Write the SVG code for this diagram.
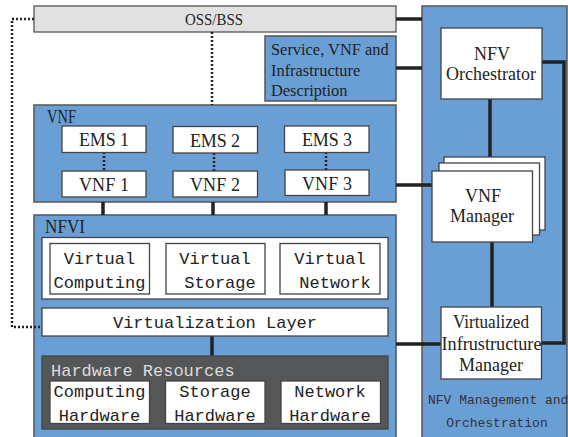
<svg xmlns="http://www.w3.org/2000/svg" width="568" height="437" viewBox="0 0 568 437">
  <style>
    .blue { fill: #6a9fd5; stroke: #555; stroke-width: 1.5; }
    .white { fill: #fff; stroke: #444; stroke-width: 1.3; }
    .grey { fill: #e1e1e2; stroke: #555; stroke-width: 1.3; }
    .dark { fill: #555658; stroke: #444; stroke-width: 1.3; }
    .serif { font-family: "Liberation Serif", "Times New Roman", serif; fill: #222; }
    .mono { font-family: "Liberation Mono", "DejaVu Sans Mono", monospace; fill: #222; font-size: 17px; }
    .mid { text-anchor: middle; }
    .link { stroke: #222; stroke-width: 3.5; fill: none; }
    .dots { stroke: #222; stroke-width: 2.5; stroke-dasharray: 2 2; fill: none; }
  </style>

  <!-- containers -->
  <g id="mano">
    <rect class="blue" x="422" y="6" width="145" height="440"/>
    <text class="mono" style="font-size:13px;fill:#333" x="428" y="404">NFV Management and</text>
    <text class="mono mid" style="font-size:13px;fill:#333" x="497" y="427">Orchestration</text>
  </g>

  <g id="oss-bss">
    <rect class="grey" x="34" y="6" width="362" height="26"/>
    <text class="serif mid" x="214" y="25" font-size="17" textLength="58" lengthAdjust="spacingAndGlyphs">OSS/BSS</text>
  </g>

  <g id="descriptor">
    <rect class="blue" x="265" y="36" width="131" height="65"/>
    <text class="serif" font-size="16.4" x="271" y="55">Service, VNF and</text>
    <text class="serif" font-size="16.4" x="271" y="76">Infrastructure</text>
    <text class="serif" font-size="16.4" x="271" y="96">Description</text>
  </g>

  <g id="vnf-layer">
    <rect class="blue" x="34" y="105" width="362" height="97"/>
    <text class="serif" x="47" y="123" font-size="18" textLength="29" lengthAdjust="spacingAndGlyphs">VNF</text>
  </g>

  <g id="nfvi">
    <rect class="blue" x="34" y="215" width="362" height="230"/>
    <text class="serif" x="45" y="233" font-size="18" textLength="40" lengthAdjust="spacingAndGlyphs">NFVI</text>
  </g>

  <!-- connectors -->
  <g id="connectors">
    <path class="dots" d="M34 19 H12 V327 H42"/>
    <path class="dots" d="M212 32 V105"/>
    <path class="dots" d="M104 152 V171"/>
    <path class="dots" d="M214 153 V171"/>
    <path class="dots" d="M326 152 V170"/>
    <path class="link" d="M396 19 H422"/>
    <path class="link" d="M396 68 H422"/>
    <path class="link" d="M396 185 H432"/>
    <path class="link" d="M396 344 H441"/>
    <path class="link" d="M103 202 V215"/>
    <path class="link" d="M213 202 V215"/>
    <path class="link" d="M326 202 V215"/>
    <path class="link" d="M212 336 V356"/>
    <path class="link" d="M490 99 V157"/>
    <path class="link" d="M492 242 V307"/>
    <path class="link" d="M541 62 H564 V343 H541"/>
  </g>

  <!-- VNF layer nodes -->
  <g id="ems1">
    <rect class="white" x="62" y="126" width="84" height="26.5"/>
    <text class="serif mid" x="104" y="146" font-size="18" textLength="50" lengthAdjust="spacing">EMS 1</text>
  </g>
  <g id="ems2">
    <rect class="white" x="173" y="126.5" width="84.5" height="26.5"/>
    <text class="serif mid" x="215" y="147" font-size="18" textLength="50" lengthAdjust="spacing">EMS 2</text>
  </g>
  <g id="ems3">
    <rect class="white" x="284.5" y="126" width="84.5" height="26.5"/>
    <text class="serif mid" x="327" y="146" font-size="18" textLength="50" lengthAdjust="spacing">EMS 3</text>
  </g>
  <g id="vnf1">
    <rect class="white" x="62" y="171" width="84" height="26"/>
    <text class="serif mid" x="104" y="191" font-size="18" textLength="50" lengthAdjust="spacing">VNF 1</text>
  </g>
  <g id="vnf2">
    <rect class="white" x="173" y="171" width="84.5" height="26"/>
    <text class="serif mid" x="215" y="191" font-size="18" textLength="50" lengthAdjust="spacing">VNF 2</text>
  </g>
  <g id="vnf3">
    <rect class="white" x="285" y="170" width="84" height="25.5"/>
    <text class="serif mid" x="327" y="190" font-size="18" textLength="50" lengthAdjust="spacing">VNF 3</text>
  </g>

  <!-- NFVI nodes -->
  <g id="virtual-resources">
    <rect class="white" x="42" y="237.5" width="346" height="61.5"/>
  </g>
  <g id="virtual-computing">
    <rect class="white" x="50" y="243.5" width="99.5" height="50.5"/>
    <text class="mono mid" x="99.5" y="264">Virtual</text>
    <text class="mono mid" x="99.5" y="288">Computing</text>
  </g>
  <g id="virtual-storage">
    <rect class="white" x="166" y="243.5" width="99" height="50.5"/>
    <text class="mono mid" x="215" y="264">Virtual</text>
    <text class="mono mid" x="220" y="288">Storage</text>
  </g>
  <g id="virtual-network">
    <rect class="white" x="280" y="243.5" width="100" height="50.5"/>
    <text class="mono mid" x="330" y="264">Virtual</text>
    <text class="mono mid" x="335" y="288">Network</text>
  </g>
  <g id="virtualization-layer">
    <rect class="white" x="42" y="308" width="346" height="28"/>
    <text class="mono mid" x="215" y="328">Virtualization Layer</text>
  </g>
  <g id="hardware-resources">
    <rect class="dark" x="42" y="356" width="346" height="73"/>
    <text class="mono" style="fill:#dcdcdc" x="51" y="376">Hardware Resources</text>
  </g>
  <g id="computing-hardware">
    <rect class="white" x="50" y="381" width="99.5" height="42.5"/>
    <text class="mono mid" x="99.5" y="397">Computing</text>
    <text class="mono mid" x="99.5" y="421">Hardware</text>
  </g>
  <g id="storage-hardware">
    <rect class="white" x="165.5" y="381" width="99.5" height="42.5"/>
    <text class="mono mid" x="215" y="397">Storage</text>
    <text class="mono mid" x="215" y="421">Hardware</text>
  </g>
  <g id="network-hardware">
    <rect class="white" x="281" y="381" width="99.5" height="42.5"/>
    <text class="mono mid" x="330" y="397">Network</text>
    <text class="mono mid" x="330" y="421">Hardware</text>
  </g>

  <!-- MANO nodes -->
  <g id="orchestrator">
    <rect class="white" x="441" y="28" width="101" height="71"/>
    <text class="serif mid" x="492" y="60" font-size="18">NFV</text>
    <text class="serif mid" x="491" y="80" font-size="18">Orchestrator</text>
  </g>
  <g id="vnf-manager">
    <rect class="white" x="444" y="157" width="101" height="73"/>
    <rect class="white" x="439" y="163" width="100.5" height="72"/>
    <rect class="white" x="432" y="171" width="100.5" height="71"/>
    <text class="serif mid" x="483" y="202" font-size="18">VNF</text>
    <text class="serif mid" x="482" y="222" font-size="18">Manager</text>
  </g>
  <g id="vim">
    <rect class="white" x="441" y="307" width="100.5" height="72"/>
    <text class="serif mid" x="491" y="328" font-size="18" textLength="76" lengthAdjust="spacingAndGlyphs">Virtualized</text>
    <text class="serif mid" x="491.5" y="350" font-size="18" textLength="100" lengthAdjust="spacingAndGlyphs">Infrustructure</text>
    <text class="serif mid" x="491" y="371" font-size="18">Manager</text>
  </g>
</svg>
